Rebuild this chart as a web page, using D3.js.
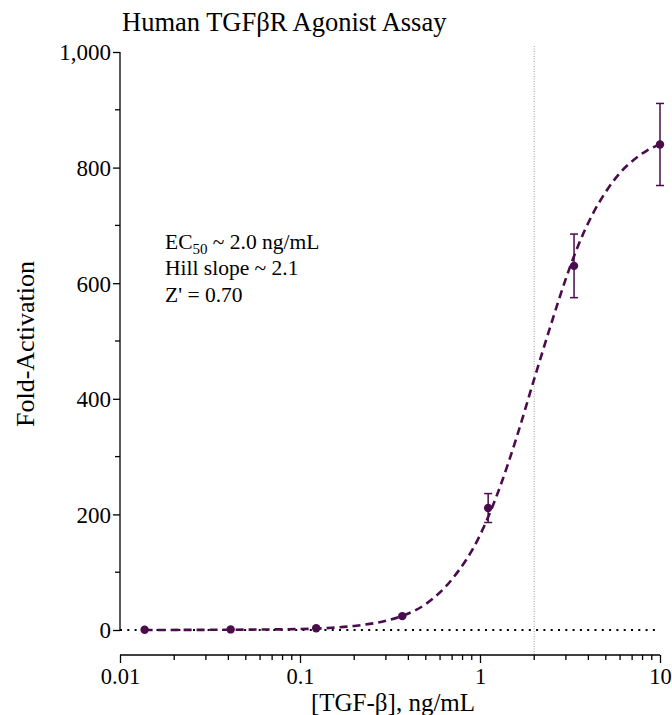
<!DOCTYPE html>
<html>
<head>
<meta charset="utf-8">
<script src="https://cdn.jsdelivr.net/npm/d3@7"></script>
<style>
  html, body { margin: 0; padding: 0; background: #fff; }
  svg { display: block; font-family: "Liberation Serif", "Times New Roman", serif; }
</style>
</head>
<body>
<svg id="chart" width="672" height="715"></svg>
<script>
// ---- data ----
const concentrations = [0.0137, 0.0412, 0.123, 0.370, 1.11, 3.33, 10];   // ng/mL
const foldActivation = [0.5, 1, 3, 24, 211, 630, 840];
const errorSD        = [0, 0, 0, 0, 25, 55, 71];
// fitted curve
const curveConc  = [0.0137, 0.03, 0.06, 0.1, 0.15, 0.2, 0.3, 0.37, 0.5, 0.7, 1.0, 1.3, 1.6, 2.0, 2.5, 3.0, 3.5, 4.2, 5.0, 6.0, 7.0, 8.5, 10];
const curveValue = [0, 0.3, 0.8, 1.6, 3.8, 7, 16, 24.5, 45, 88, 164, 250, 334, 434, 532, 608, 664, 718, 758, 791, 811, 830, 840];
const yTicks = [0, 200, 400, 600, 800, 1000];
const xTicks = [0.01, 0.1, 1, 10];
const ec50 = 2.0;
const titleText = "Human TGFβR Agonist Assay";
const xTitle = "[TGF-β], ng/mL";
const yTitle = "Fold-Activation";

// ---- layout ----
const svg = d3.select("#chart");
const color = "#4a0c4c";
const xLeft = 120, xRight = 660, yTop = 52, yBottom = 630, xAxisY = 655;

const x = d3.scaleLog().domain([0.01, 10]).range([xLeft, xRight]);
const y = d3.scaleLinear().domain([0, 1000]).range([yBottom, yTop]);

// title
svg.append("text").attr("x", 122).attr("y", 31)
  .attr("font-size", 26.5).attr("fill", "#000").text(titleText);

// EC50 vertical line
svg.append("line")
  .attr("x1", x(ec50)).attr("x2", x(ec50))
  .attr("y1", 46).attr("y2", xAxisY)
  .attr("stroke", "#999").attr("stroke-width", 1).attr("stroke-dasharray", "1,1.5");

// zero baseline dotted
svg.append("line")
  .attr("x1", xLeft).attr("x2", xRight)
  .attr("y1", y(0)).attr("y2", y(0))
  .attr("stroke", "#000").attr("stroke-width", 2).attr("stroke-dasharray", "2,5.3");

// y axis
const yAxis = d3.axisLeft(y).tickValues(yTicks).tickSize(7).tickPadding(2)
  .tickFormat(d3.format(","));
const gy = svg.append("g").attr("transform", `translate(${xLeft},0)`).call(yAxis);
gy.select(".domain").attr("d", `M0,${yTop}V${yBottom}`).attr("stroke-width", 1.3);
gy.selectAll(".tick line").attr("stroke-width", 1.3);
gy.selectAll(".tick text").attr("font-size", 23).attr("font-family", "Liberation Serif").attr("dy", "0.34em");
const yMinor = d3.range(100, 1000, 200);
gy.selectAll(".minor").data(yMinor).enter().append("line")
  .attr("x1", -5).attr("x2", 0).attr("y1", d => y(d)).attr("y2", d => y(d))
  .attr("stroke", "#000").attr("stroke-width", 1.3);

// x axis
const xAxis = d3.axisBottom(x).tickValues(xTicks).tickSize(8).tickPadding(5)
  .tickFormat(d => String(d));
const gx = svg.append("g").attr("transform", `translate(0,${xAxisY})`).call(xAxis);
gx.select(".domain").attr("d", `M${xLeft},0H${xRight}`).attr("stroke-width", 1.3);
gx.selectAll(".tick line").attr("stroke-width", 1.3);
gx.selectAll(".tick text").attr("font-size", 22.5).attr("font-family", "Liberation Serif");
const xMinor = [];
for (let dec = 0.01; dec < 10; dec *= 10) {
  for (let k = 2; k <= 9; k++) xMinor.push(+(dec * k).toPrecision(3));
}
gx.selectAll(".minor").data(xMinor).enter().append("line")
  .attr("x1", d => x(d)).attr("x2", d => x(d)).attr("y1", 0).attr("y2", 5)
  .attr("stroke", "#000").attr("stroke-width", 1.3);

// axis titles
svg.append("text").attr("x", 393).attr("y", 711)
  .attr("text-anchor", "middle").attr("font-size", 25).text(xTitle);
svg.append("text").attr("transform", `translate(34,344) rotate(-90)`)
  .attr("text-anchor", "middle").attr("font-size", 26).text(yTitle);

// fitted curve
const curveData = curveConc.map((c, i) => ({c, v: curveValue[i]}));
svg.append("path").datum(curveData)
  .attr("fill", "none").attr("stroke", color).attr("stroke-width", 2.6)
  .attr("stroke-dasharray", "8,5")
  .attr("d", d3.line().x(d => x(d.c)).y(d => y(d.v)).curve(d3.curveMonotoneX));

// error bars
const pts = concentrations.map((c, i) => ({c, v: foldActivation[i], e: errorSD[i]}));
const eb = svg.append("g").attr("stroke", color).attr("stroke-width", 1.5);
pts.filter(d => d.e > 0).forEach(d => {
  eb.append("line").attr("x1", x(d.c)).attr("x2", x(d.c)).attr("y1", y(d.v - d.e)).attr("y2", y(d.v + d.e));
  eb.append("line").attr("x1", x(d.c) - 4).attr("x2", x(d.c) + 4).attr("y1", y(d.v - d.e)).attr("y2", y(d.v - d.e));
  eb.append("line").attr("x1", x(d.c) - 4).attr("x2", x(d.c) + 4).attr("y1", y(d.v + d.e)).attr("y2", y(d.v + d.e));
});

// points
svg.append("g").selectAll("circle").data(pts).enter().append("circle")
  .attr("cx", d => x(d.c)).attr("cy", d => y(d.v)).attr("r", 4.2).attr("fill", color);

// annotation
const ann = svg.append("text").attr("x", 165).attr("font-size", 21.5).attr("fill", "#000");
const l1 = ann.append("tspan").attr("x", 165).attr("y", 249);
l1.append("tspan").text("EC");
l1.append("tspan").attr("font-size", 15).attr("dy", 5).text("50");
l1.append("tspan").attr("dy", -5).text(" ~ 2.0 ng/mL");
ann.append("tspan").attr("x", 165).attr("y", 275).text("Hill slope ~ 2.1");
ann.append("tspan").attr("x", 165).attr("y", 302).text("Z' = 0.70");
</script>
</body>
</html>
